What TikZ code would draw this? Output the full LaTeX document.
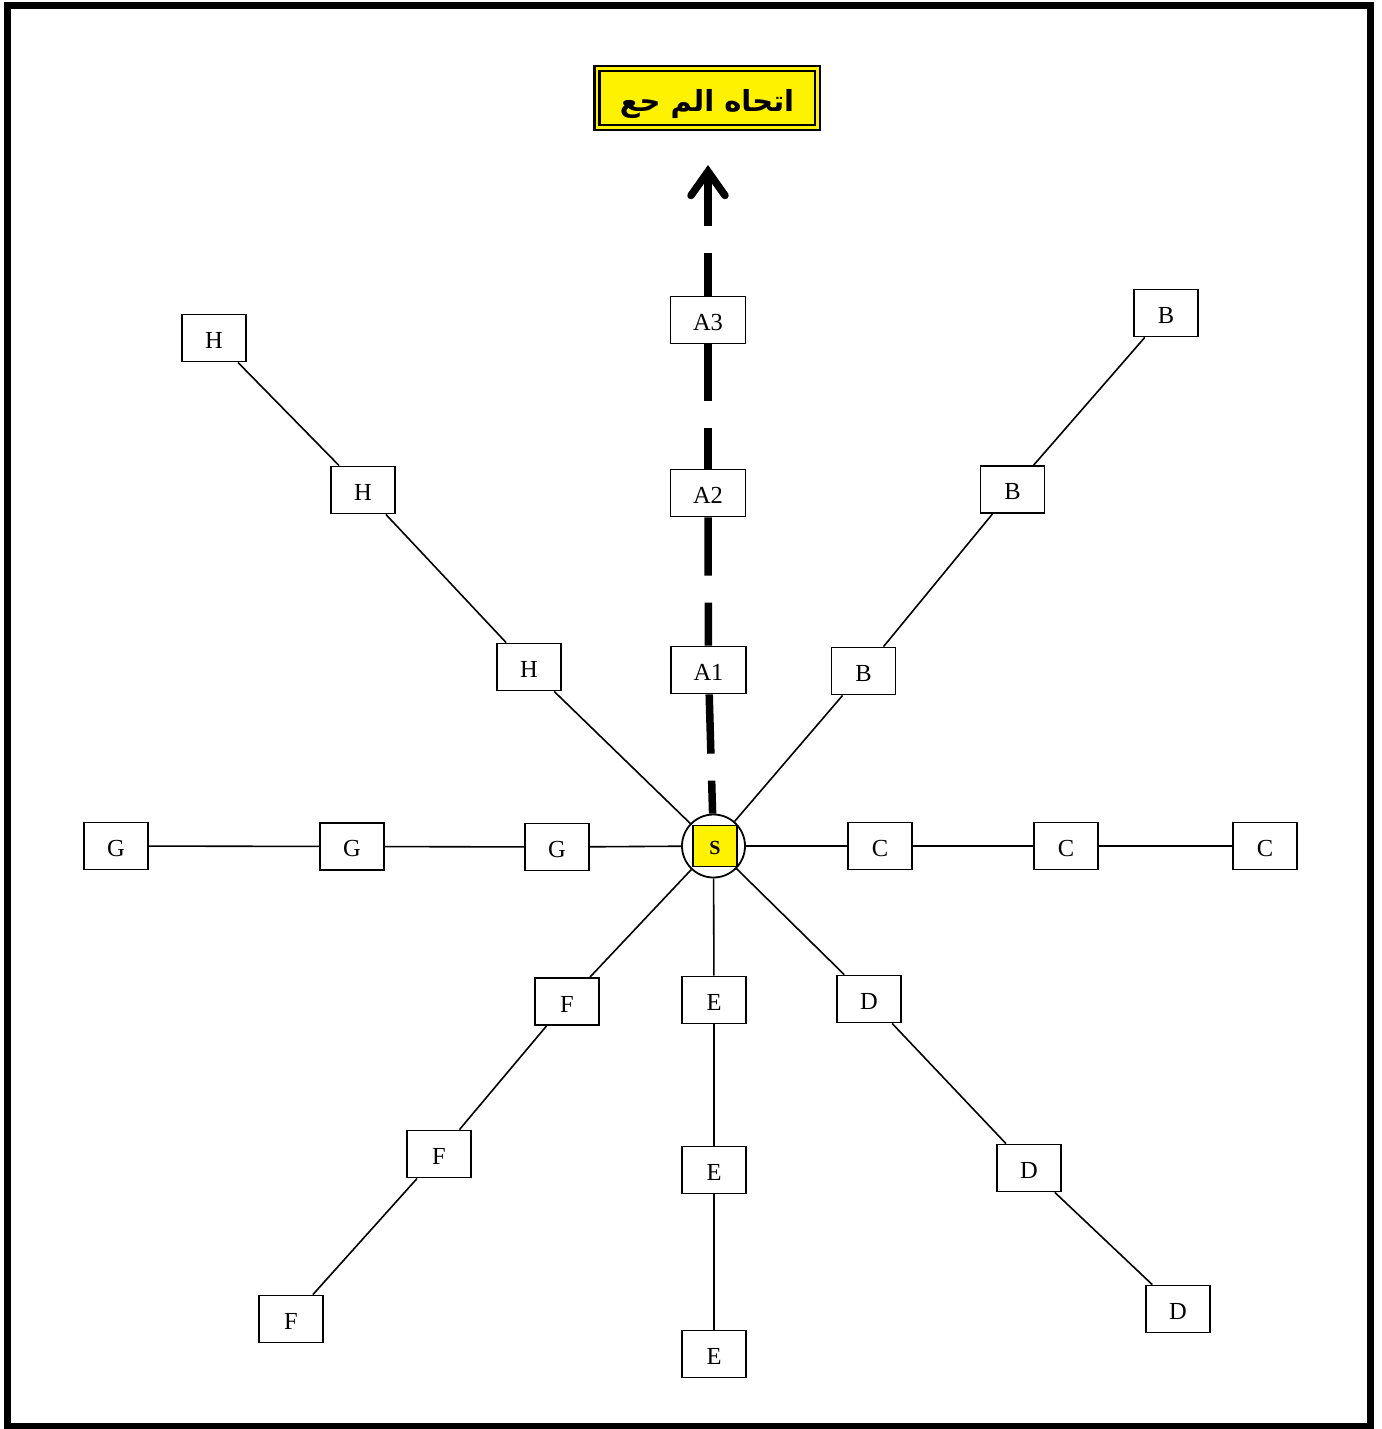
\documentclass[tikz,border=0pt]{standalone}
\usepackage{fontspec}
\setmainfont{Liberation Serif}
\newfontfamily\arabicfont[Script=Arabic]{DejaVu Sans}
\TeXXeTstate=1
\usetikzlibrary{arrows.meta}
\begin{document}
\begin{tikzpicture}[x=1pt,y=-1pt,
 box/.style={draw, line width=1.8pt, fill=white, minimum width=64pt, minimum height=47pt, inner sep=0pt, text height=21pt, font=\fontsize{24.5}{28}\selectfont},
 abox/.style={box, minimum width=75pt},
 link/.style={line width=1.6pt},
 adash/.style={line width=7.5pt, dash pattern=on #1 off 27pt on 300pt}
]
\useasboundingbox (0,0) rectangle (1381,1429);
\draw[line width=7pt] (7.5,5.5) rectangle (1370.5,1426.5);

\node[draw, line width=2.5pt, double=yellow, double distance=2.5pt, fill=yellow,
      minimum width=220.5pt, minimum height=58.5pt, inner sep=0pt, text height=34pt] (title) at (707,98)
      {\arabicfont\bfseries\fontsize{29}{32}\selectfont\beginR اتحاه الم حع\endR};

\node[circle, draw, line width=1.8pt, minimum size=63pt, inner sep=0pt] (S) at (713.5,846) {};
\node[draw, line width=1.8pt, fill=yellow, minimum width=44pt, minimum height=41pt, inner sep=0pt, text height=17pt] (Sq) at (715,846) {\bfseries\fontsize{20}{24}\selectfont S};

\node[box] (H1) at (214,338) {H};
\node[box] (H2) at (363,490) {H};
\node[box] (H3) at (529,667) {H};
\node[abox] (A3) at (708,320) {A3};
\node[abox] (A2) at (708,493) {A2};
\node[abox] (A1) at (708.5,670) {A1};
\node[box] (B1) at (863.5,671) {B};
\node[box] (B2) at (1012.5,489.5) {B};
\node[box] (B3) at (1166,313) {B};
\node[box] (G1) at (116,846) {G};
\node[box] (G2) at (352,846.5) {G};
\node[box] (G3) at (557,847) {G};
\node[box] (C1) at (880,846) {C};
\node[box] (C2) at (1066,846) {C};
\node[box] (C3) at (1265,846) {C};
\node[box] (F1) at (567,1001.5) {F};
\node[box] (E1) at (714,1000) {E};
\node[box] (D1) at (869,999) {D};
\node[box] (F2) at (439,1154) {F};
\node[box] (E2) at (714,1170) {E};
\node[box] (D2) at (1029,1168) {D};
\node[box] (F3) at (291,1319) {F};
\node[box] (E3) at (714,1354) {E};
\node[box] (D3) at (1178,1309) {D};

\coordinate (tip) at (708,165);

\draw[link] (S) -- (H3);
\draw[link] (H3) -- (H2);
\draw[link] (H2) -- (H1);
\draw[link] (S) -- (B1);
\draw[link] (B1) -- (B2);
\draw[link] (B2) -- (B3);
\draw[link] (S) -- (C1);
\draw[link] (C1) -- (C2);
\draw[link] (C2) -- (C3);
\draw[link] (S) -- (D1);
\draw[link] (D1) -- (D2);
\draw[link] (D2) -- (D3);
\draw[link] (S) -- (E1);
\draw[link] (E1) -- (E2);
\draw[link] (E2) -- (E3);
\draw[link] (S) -- (F1);
\draw[link] (F1) -- (F2);
\draw[link] (F2) -- (F3);
\draw[link] (S) -- (G3);
\draw[link] (G3) -- (G2);
\draw[link] (G2) -- (G1);

\draw[adash=33pt] (S) -- (A1);
\draw[adash=43pt] (A1) -- (A2);
\draw[adash=41pt] (A2) -- (A3);
\draw[adash=43pt, -{Straight Barb[length=24pt,width=34pt,line cap=round,line join=miter]}] (A3) -- (tip);
\end{tikzpicture}
\end{document}
